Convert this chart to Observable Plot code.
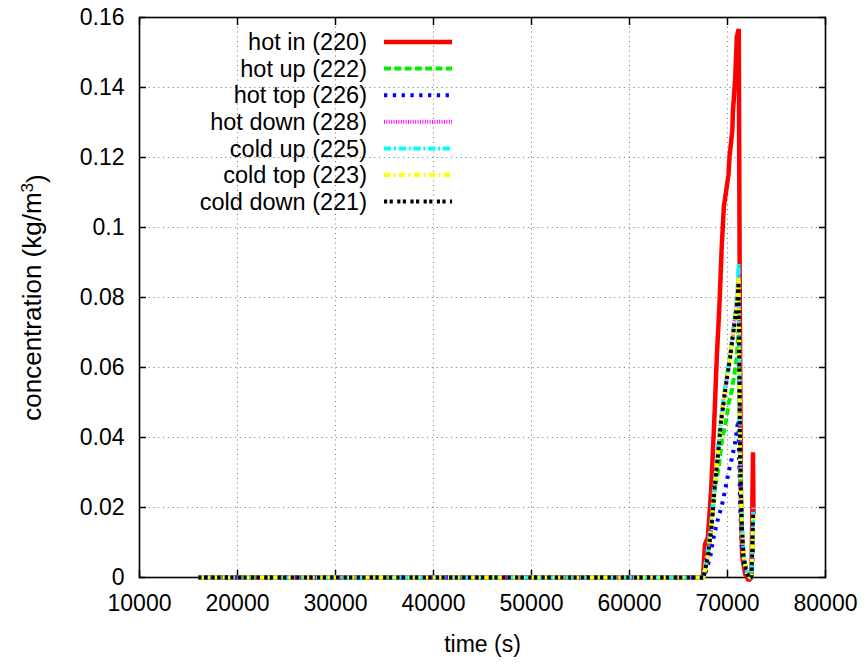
<!DOCTYPE html>
<html><head><meta charset="utf-8">
<script src="https://cdn.jsdelivr.net/npm/d3@7"></script>
<script src="https://cdn.jsdelivr.net/npm/@observablehq/plot@0.6"></script>
<style>
body{margin:0;background:#fff;}
#chart{position:relative;width:867px;height:664px;}
</style></head><body><div id="chart"></div>
<script>
// ---- data ----
const xTicks = [10000, 20000, 30000, 40000, 50000, 60000, 70000, 80000];
const yTicks = [0, 0.02, 0.04, 0.06, 0.08, 0.1, 0.12, 0.14, 0.16];

const seriesNames  = ["hot in (220)", "hot up (222)", "hot top (226)", "hot down (228)", "cold up (225)", "cold top (223)", "cold down (221)"];
const seriesColors = ["#ff0000", "#00ee00", "#0000ff", "#ff00ff", "#00ffff", "#ffff00", "#000000"];
const seriesDashes = ["none", "7,3.3", "3.3,5.5", "1,1.4", "7.3,2.7,2,2.7", "6,3.5,2,3.5", "3.2,2.4,3.2,4.4"];

// [time (s), concentration (kg/m3)]
const hotIn = [[16000,0],[67500,0],[67700,0.0095],[68000,0.0115],[68330,0.025],[68640,0.044],[68910,0.063],[69180,0.078],[69420,0.095],[69630,0.106],[70100,0.115],[70200,0.12],[70500,0.128],[70550,0.133],[70780,0.142],[70950,0.1544],[71150,0.1567],[71250,0.08],[71380,0.02],[71500,0.006],[71800,0.001],[72150,-0.0008],[72450,0.0],[72600,0.0358],[72650,0.018]];
const hotUp = [[16000,0],[67550,0],[68000,0.006],[68400,0.0153],[68670,0.025],[69080,0.031],[69420,0.039],[69930,0.0458],[70100,0.0496],[70440,0.0534],[70710,0.0582],[70950,0.063],[71120,0.071],[71290,0.032],[71460,0.014],[71630,0.0055],[71970,0.001],[72310,0],[72450,0],[72620,0.017]];
const hotTop = [[16000,0],[67600,0],[68230,0.0058],[68580,0.0115],[69050,0.017],[69420,0.0205],[69760,0.025],[70100,0.03],[70440,0.034],[70780,0.0385],[71020,0.0435],[71120,0.045],[71290,0.02],[71460,0.009],[71630,0.004],[71970,0.0005],[72310,0],[72450,0],[72620,0.009]];
const hotDown = [[16000,0],[67520,0],[67980,0.0065],[68380,0.0158],[68660,0.0255],[69000,0.0352],[69310,0.0445],[69750,0.054],[70260,0.0635],[70700,0.0728],[71000,0.08],[71130,0.088],[71290,0.0345],[71465,0.0152],[71640,0.0062],[71980,0.001],[72300,0],[72450,0],[72620,0.019]];
const coldUp = [[16000,0],[67500,0],[67950,0.007],[68350,0.016],[68650,0.026],[69000,0.036],[69300,0.045],[69750,0.054],[70250,0.064],[70700,0.073],[71000,0.081],[71130,0.0896],[71290,0.035],[71470,0.0155],[71650,0.0065],[72000,0.001],[72300,0],[72450,0],[72620,0.02]];
const coldTop = [[16000,0],[67540,0],[67990,0.006],[68390,0.0155],[68670,0.0252],[69010,0.0348],[69320,0.0442],[69760,0.0537],[70270,0.0632],[70710,0.0726],[71000,0.0795],[71130,0.086],[71290,0.0342],[71460,0.0151],[71630,0.006],[71970,0.001],[72310,0],[72450,0],[72620,0.018]];
const coldDown = [[16000,0],[67550,0],[68000,0.006],[68400,0.0153],[68670,0.025],[69010,0.0344],[69320,0.0439],[69760,0.0534],[70270,0.0629],[70710,0.0725],[71000,0.079],[71130,0.0845],[71290,0.034],[71460,0.015],[71630,0.006],[71970,0.001],[72310,0],[72450,0],[72620,0.018]];

const seriesData = [hotIn, hotUp, hotTop, hotDown, coldUp, coldTop, coldDown];

// ---- chart ----
const FONT = "'Liberation Sans', Arial, Helvetica, sans-serif";
const lineMarks = seriesData.map((d, i) => Plot.line(d, {
  x: p => p[0], y: p => p[1],
  stroke: seriesColors[i],
  strokeWidth: i === 0 ? 4.5 : 4,
  strokeDasharray: seriesDashes[i],
  strokeLinejoin: "miter",
  strokeLinecap: "butt"
}));

const fmtY = d => String(+d.toFixed(2));
const fmtX = d => String(d);

const svg = Plot.plot({
  width: 867,
  height: 664,
  marginLeft: 139,
  marginRight: 42,
  marginTop: 17,
  marginBottom: 87,
  style: {fontFamily: FONT, fontSize: "23px", background: "#fff", color: "#000"},
  x: {domain: [10000, 80000]},
  y: {domain: [0, 0.16]},
  marks: [
    Plot.gridX(xTicks.slice(1, -1), {stroke: "#888", strokeOpacity: 1, strokeWidth: 1, strokeDasharray: "1.2,3.6"}),
    Plot.gridY(yTicks.slice(1, -1), {stroke: "#888", strokeOpacity: 1, strokeWidth: 1, strokeDasharray: "1.2,3.6"}),
    Plot.frame({stroke: "#000", strokeWidth: 1.6}),
    Plot.axisX(xTicks, {anchor: "bottom", tickSize: 0, tickPadding: 17, tickFormat: fmtX,
      label: "time (s)", labelAnchor: "center", labelOffset: 74, labelArrow: "none"}),
    Plot.axisX(xTicks, {anchor: "bottom", tickSize: 7, dy: -7, strokeWidth: 1.5, tickFormat: () => "", label: null}),
    Plot.axisX(xTicks, {anchor: "top", tickSize: 7, dy: 7, strokeWidth: 1.5, tickFormat: () => "", label: null}),
    Plot.axisY(yTicks, {anchor: "left", tickSize: 0, tickPadding: 15, tickFormat: fmtY,
      label: "concentration (kg/m3)", labelAnchor: "center", labelOffset: 117, labelArrow: "none"}),
    Plot.axisY(yTicks, {anchor: "left", tickSize: 7, dx: 7, strokeWidth: 1.5, tickFormat: () => "", label: null}),
    Plot.axisY(yTicks, {anchor: "right", tickSize: 7, dx: -7, strokeWidth: 1.5, tickFormat: () => "", label: null}),
    ...lineMarks
  ]
});
document.getElementById("chart").appendChild(svg);

// y label with superscript
const s = d3.select(svg);
s.selectAll("text").each(function() {
  if (this.textContent === "concentration (kg/m3)") {
    const t = d3.select(this);
    t.style("font-size", "26px");
    t.text("");
    t.append("tspan").text("concentration (kg/m");
    t.append("tspan").attr("dy", "-0.45em").style("font-size", "17px").text("3");
    t.append("tspan").attr("dy", "0.45em").text(")");
  }
});

// legend (inside the plot area, gnuplot style)
const lg = s.append("g").attr("font-family", FONT).attr("font-size", "23.5px");
seriesNames.forEach((name, i) => {
  const yy = 42 + i * 26.6;
  lg.append("text").attr("x", 367).attr("y", yy).attr("dy", "0.35em")
    .attr("text-anchor", "end").attr("fill", "#000").text(name);
  lg.append("line").attr("x1", 384).attr("x2", 452).attr("y1", yy).attr("y2", yy)
    .attr("stroke", seriesColors[i]).attr("stroke-width", i === 0 ? 4.5 : 4)
    .attr("stroke-dasharray", seriesDashes[i]);
});
</script>
</body></html>
